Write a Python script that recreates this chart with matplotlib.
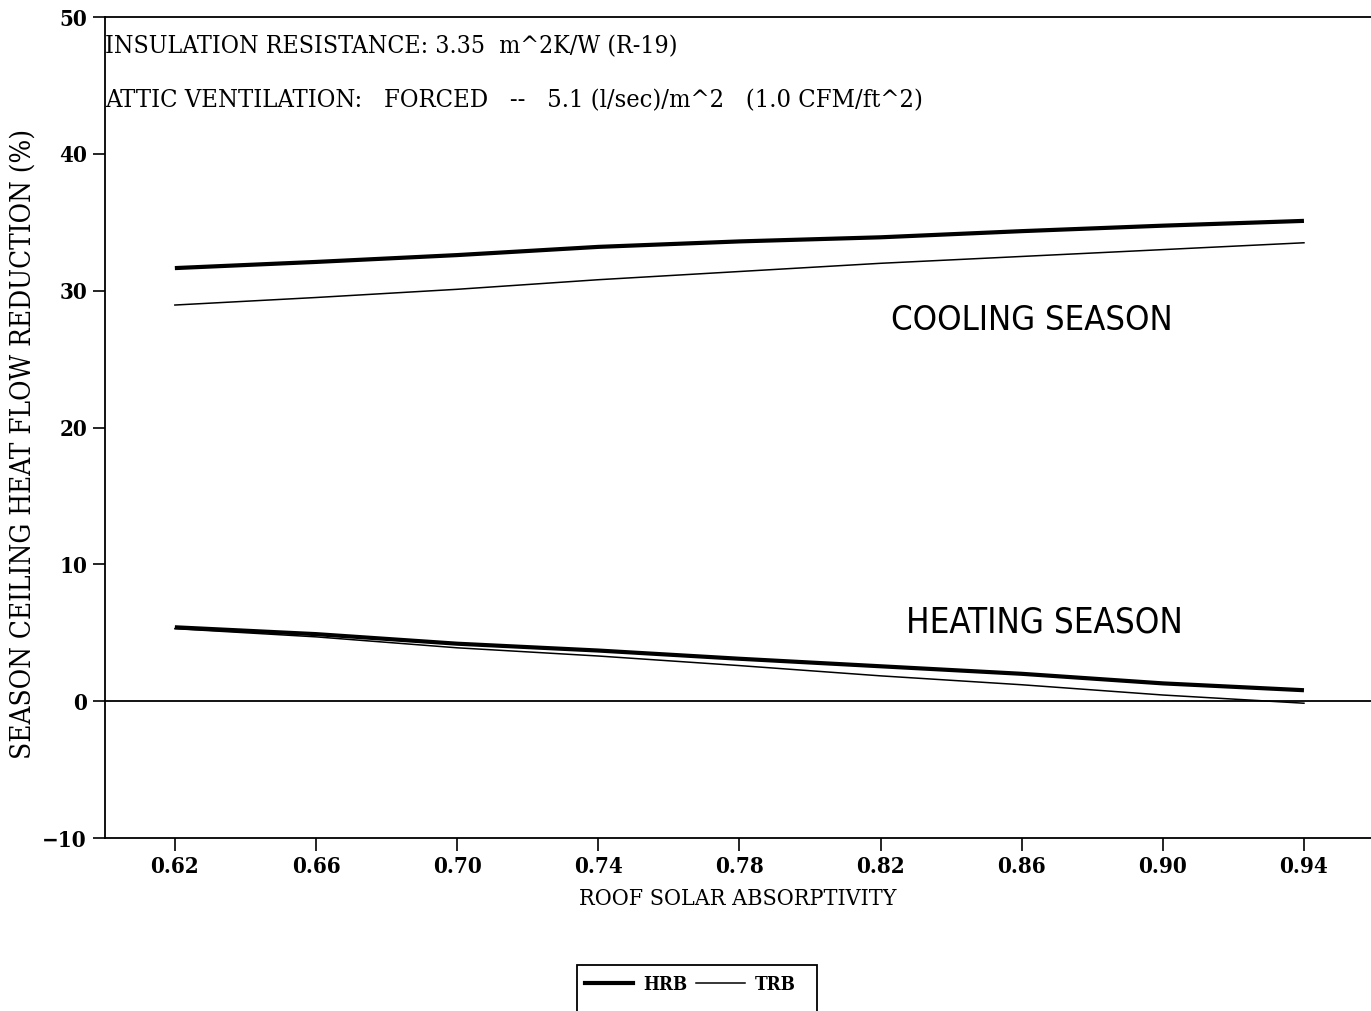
import matplotlib
matplotlib.use("Agg")
import matplotlib.pyplot as plt
from matplotlib.patches import Rectangle

# Roof solar absorptivity values
absorptivity = [0.62, 0.66, 0.70, 0.74, 0.78, 0.82, 0.86, 0.90, 0.94]

# Seasonal ceiling heat flow reduction (%)
cooling_hrb = [31.65, 32.1, 32.6, 33.2, 33.6, 33.9, 34.35, 34.75, 35.1]
cooling_trb = [28.95, 29.5, 30.1, 30.8, 31.4, 32.0, 32.5, 33.0, 33.5]
heating_hrb = [5.4, 4.9, 4.2, 3.7, 3.1, 2.55, 2.0, 1.3, 0.8]
heating_trb = [5.3, 4.7, 3.9, 3.3, 2.6, 1.85, 1.2, 0.45, -0.15]

x_ticks = [0.62, 0.66, 0.70, 0.74, 0.78, 0.82, 0.86, 0.90, 0.94]
x_tick_labels = ["0.62", "0.66", "0.70", "0.74", "0.78", "0.82", "0.86", "0.90", "0.94"]
y_ticks = [-10, 0, 10, 20, 30, 40, 50]

W, H = 1371, 1011
fig = plt.figure(figsize=(W / 100, H / 100), dpi=100)
ax = fig.add_axes([105 / W, 1 - 838 / H, (W - 105) / W, (838 - 17) / H])

serif = ["DejaVu Serif"]
sans = ["DejaVu Sans"]
cond = "condensed"

ax.plot(absorptivity, cooling_hrb, color="black", lw=3.0, solid_capstyle="butt")
ax.plot(absorptivity, cooling_trb, color="black", lw=1.1)
ax.plot(absorptivity, heating_hrb, color="black", lw=3.0, solid_capstyle="butt")
ax.plot(absorptivity, heating_trb, color="black", lw=1.1)
ax.axhline(0, color="black", lw=1.3)

ax.set_xlim(0.6002, 0.959)
ax.set_ylim(-10, 50)
ax.set_xticks(x_ticks)
ax.set_xticklabels(x_tick_labels)
ax.set_yticks(y_ticks)

for side in ("left", "top", "bottom"):
    ax.spines[side].set_linewidth(1.3)
ax.spines["right"].set_visible(False)
ax.tick_params(direction="out", length=9, width=1.2, pad=4)
for lab in ax.get_xticklabels() + ax.get_yticklabels():
    lab.set_family(serif)
    lab.set_stretch(cond)
    lab.set_fontweight("bold")
    lab.set_fontsize(16)

ax.set_xlabel("ROOF SOLAR ABSORPTIVITY", family=serif, stretch=cond, fontsize=16.7,
              labelpad=7)
ax.set_ylabel("SEASON CEILING HEAT FLOW REDUCTION (%)", family=serif, stretch=cond,
              fontsize=20)
ax.yaxis.set_label_coords(-0.0537, 0.48)

ytr = ax.get_yaxis_transform()
ax.text(0.0, 47.8, "INSULATION RESISTANCE: 3.35  m^2K/W (R-19)", family=serif,
        stretch=cond, fontsize=17.8, va="center", ha="left", transform=ytr)
ax.text(0.0, 43.9, "ATTIC VENTILATION:   FORCED   --   5.1 (l/sec)/m^2   (1.0 CFM/ft^2)",
        family=serif, stretch=cond, fontsize=18.3, va="center", ha="left", transform=ytr)

ax.text(0.8628, 27.8, "COOLING SEASON", family=sans, stretch=cond, fontsize=24.8,
        va="center", ha="center")
ax.text(0.8665, 5.77, "HEATING SEASON", family=sans, stretch=cond, fontsize=25,
        va="center", ha="center")

# Legend below the axes
h1, = ax.plot([], [], color="black", lw=3.0)
h2, = ax.plot([], [], color="black", lw=1.1)
fig.legend([h1, h2], ["HRB", "TRB"], ncol=2, frameon=False,
           loc="center", bbox_to_anchor=(690 / W, 1 - 985 / H),
           prop={"family": serif, "stretch": cond, "size": 13.5, "weight": "bold"},
           handlelength=2.6, handletextpad=0.5, columnspacing=0.5)
fig.patches.append(Rectangle((577 / W, -0.02), (817 - 577) / W, (1 - 965 / H) + 0.02,
                             transform=fig.transFigure, fill=False, lw=1.3,
                             edgecolor="black"))

fig.savefig("out.png", dpi=100)
